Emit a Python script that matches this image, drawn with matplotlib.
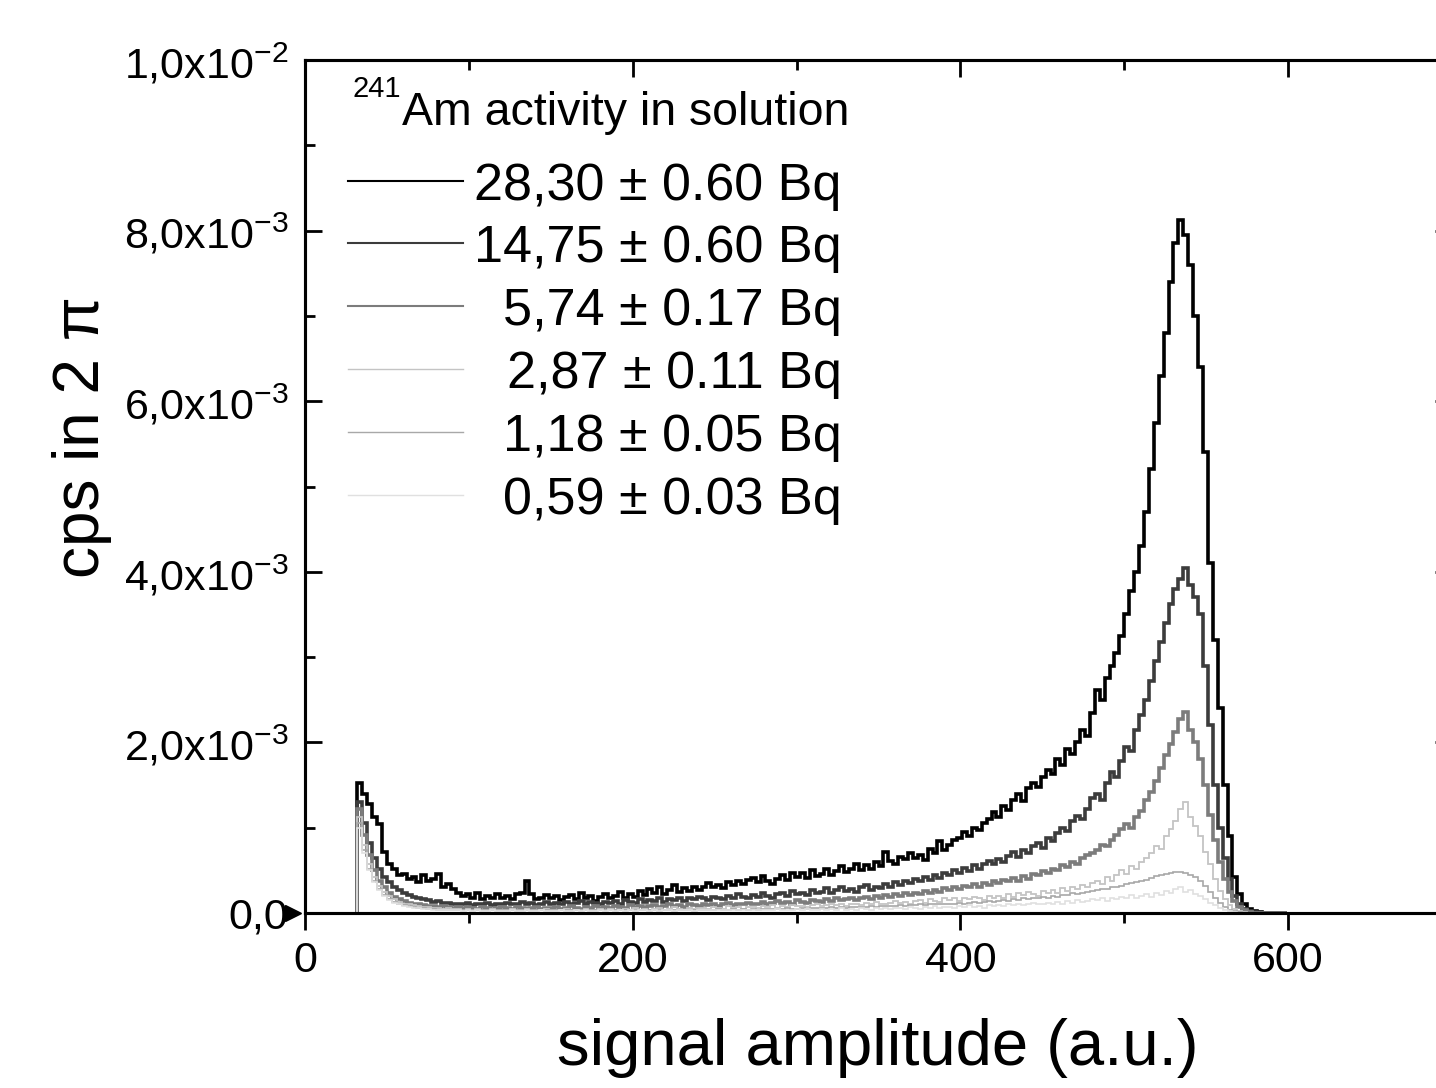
import matplotlib
matplotlib.use('Agg')
import matplotlib.pyplot as plt
import numpy as np

plt.rcParams['font.family'] = ['Liberation Sans', 'DejaVu Sans']
plt.rcParams['mathtext.fontset'] = 'custom'
plt.rcParams['mathtext.rm'] = 'Liberation Sans'
plt.rcParams['mathtext.it'] = 'Liberation Sans:italic'
plt.rcParams['mathtext.bf'] = 'Liberation Sans:bold'

# ---------------- data (counts per second, in units of 1e-5) ----------------
bin_start = 32
bin_width = 3
n_bins = 189
edges = bin_start + bin_width * np.arange(n_bins + 1)

a28_30 = [
    152, 140, 128, 112, 104, 72, 58, 52, 44, 46,
    40, 42, 36, 44, 38, 40, 46, 30, 34, 28,
    24, 20, 22, 18, 24, 16, 20, 18, 22, 17,
    20, 16, 22, 24, 38, 22, 16, 18, 21, 17,
    20, 15, 19, 21, 16, 23, 18, 20, 14, 19,
    22, 17, 20, 25, 18, 22, 19, 26, 21, 28,
    24, 30, 22, 27, 33, 25, 29, 26, 31, 27,
    30, 35, 31, 33, 29, 36, 33, 38, 34, 39,
    41, 36, 43, 38, 34, 40, 45, 39, 47, 42,
    47, 41, 50, 43, 46, 52, 45, 49, 55, 48,
    52, 58, 50, 56, 52, 60, 55, 72, 61, 58,
    66, 63, 70, 64, 68, 62, 75, 70, 84, 74,
    80, 86, 88, 95, 90, 100, 97, 106, 110, 118,
    112, 125, 121, 133, 140, 131, 146, 152, 148, 160,
    168, 163, 180, 174, 192, 186, 200, 215, 208, 235,
    262, 250, 275, 290, 305, 325, 350, 378, 400, 430,
    470, 520, 575, 630, 680, 740, 785, 812, 795, 760,
    700, 640, 540, 410, 320, 240, 150, 90, 42, 22,
    10, 5, 2, 1, 0, 0, 0, 0, 0]

a14_75 = [
    130, 105, 82, 64, 52, 42, 36, 30, 27, 24,
    21, 19, 17, 16, 15, 13, 14, 12, 12, 11,
    11, 10, 12, 9, 11, 10, 12, 9, 11, 10,
    12, 10, 11, 13, 10, 12, 9, 11, 13, 10,
    12, 11, 13, 10, 12, 14, 11, 13, 12, 10,
    13, 12, 14, 11, 15, 13, 12, 16, 13, 15,
    14, 17, 13, 16, 15, 18, 14, 17, 16, 19,
    17, 15, 19, 18, 16, 20, 18, 22, 19, 17,
    21, 19, 23, 20, 18, 22, 24, 20, 26, 22,
    24, 21, 27, 23, 25, 29, 24, 27, 31, 26,
    28, 25, 30, 33, 27, 31, 29, 34, 30, 36,
    33, 38, 35, 40, 37, 42, 39, 45, 41, 47,
    44, 50, 47, 53, 49, 56, 52, 58, 61, 57,
    63, 60, 67, 72, 66, 74, 70, 78, 82, 76,
    88, 84, 94, 100, 96, 108, 114, 110, 122, 135,
    140, 132, 152, 165, 160, 178, 195, 190, 215, 232,
    250, 272, 295, 318, 340, 362, 380, 392, 405, 385,
    370, 350, 290, 220, 150, 100, 65, 40, 20, 10,
    5, 2, 1, 0, 0, 0, 0, 0, 0]

a5_74 = [
    122, 92, 68, 50, 38, 30, 24, 19, 16, 14,
    12, 11, 10, 9, 8, 8, 7, 8, 7, 6,
    7, 6, 7, 6, 5, 7, 6, 5, 6, 7,
    6, 5, 7, 6, 5, 6, 7, 5, 6, 6,
    7, 5, 6, 8, 6, 5, 7, 6, 8, 6,
    7, 6, 8, 7, 6, 9, 7, 8, 6, 8,
    9, 7, 8, 10, 8, 9, 7, 10, 9, 8,
    10, 9, 11, 8, 10, 12, 9, 11, 10, 12,
    11, 10, 13, 11, 12, 14, 12, 13, 11, 15,
    13, 12, 15, 14, 13, 16, 14, 17, 15, 16,
    18, 15, 17, 19, 16, 20, 18, 21, 19, 22,
    20, 23, 21, 24, 22, 26, 23, 27, 25, 29,
    27, 30, 28, 32, 30, 34, 31, 35, 33, 37,
    35, 39, 37, 41, 38, 43, 40, 46, 44, 49,
    47, 52, 50, 56, 54, 60, 58, 64, 68, 70,
    74, 80, 78, 86, 92, 98, 104, 100, 112, 120,
    132, 142, 155, 170, 185, 198, 212, 228, 236, 215,
    200, 180, 150, 115, 85, 60, 40, 25, 14, 7,
    3, 1, 0, 0, 0, 0, 0, 0, 0]

a2_87 = [
    112, 80, 58, 42, 32, 25, 20, 16, 13, 11,
    10, 9, 8, 7, 7, 6, 6, 5, 6, 5,
    5, 4, 5, 4, 5, 4, 3, 5, 4, 4,
    4, 5, 3, 4, 5, 4, 3, 4, 5, 3,
    4, 3, 5, 4, 4, 3, 5, 4, 3, 5,
    4, 5, 4, 3, 5, 4, 6, 4, 5, 4,
    5, 6, 4, 5, 7, 5, 4, 6, 5, 6,
    6, 5, 7, 6, 5, 8, 6, 7, 5, 7,
    7, 6, 8, 7, 9, 6, 8, 7, 9, 8,
    8, 7, 9, 10, 8, 9, 11, 9, 10, 8,
    10, 11, 9, 12, 10, 13, 11, 10, 12, 14,
    12, 13, 11, 14, 15, 12, 16, 14, 13, 17,
    15, 17, 14, 18, 16, 19, 17, 15, 20, 18,
    20, 18, 22, 19, 23, 21, 25, 22, 20, 26,
    24, 27, 23, 29, 26, 31, 28, 33, 30, 35,
    38, 34, 42, 37, 45, 50, 46, 55, 52, 60,
    64, 70, 78, 75, 90, 98, 108, 122, 130, 112,
    102, 90, 72, 58, 40, 26, 16, 9, 5, 2,
    1, 0, 0, 0, 0, 0, 0, 0, 0]

a1_18 = [
    106, 74, 52, 38, 28, 21, 16, 13, 11, 9,
    8, 7, 6, 6, 5, 5, 4, 4, 4, 4,
    3, 3, 3, 3, 3, 3, 3, 3, 3, 3,
    3, 3, 3, 3, 3, 3, 3, 3, 3, 3,
    3, 3, 3, 3, 3, 3, 3, 3, 3, 3,
    3, 3, 3, 4, 3, 3, 4, 3, 4, 3,
    4, 3, 4, 4, 3, 4, 4, 4, 3, 4,
    4, 4, 4, 5, 4, 4, 5, 4, 5, 4,
    5, 4, 5, 5, 5, 5, 5, 6, 5, 5,
    6, 5, 6, 6, 6, 6, 7, 6, 7, 6,
    7, 7, 7, 7, 8, 7, 8, 8, 8, 8,
    9, 8, 9, 9, 10, 9, 10, 10, 11, 10,
    11, 11, 12, 11, 12, 13, 12, 13, 14, 13,
    14, 15, 14, 16, 15, 17, 16, 18, 17, 19,
    18, 20, 19, 21, 21, 23, 22, 24, 25, 26,
    27, 28, 28, 30, 31, 32, 34, 35, 36, 38,
    39, 41, 43, 44, 46, 47, 48, 48, 47, 45,
    42, 38, 32, 25, 18, 12, 7, 4, 2, 1,
    0, 0, 0, 0, 0, 0, 0, 0, 0]

a0_59 = [
    100, 70, 50, 36, 27, 20, 15, 12, 10, 8,
    7, 6, 6, 5, 5, 4, 4, 4, 3, 4,
    3, 2, 3, 2, 3, 2, 2, 3, 2, 2,
    2, 3, 2, 2, 3, 2, 2, 3, 2, 2,
    2, 3, 2, 2, 3, 2, 3, 2, 2, 3,
    2, 3, 2, 3, 2, 3, 2, 3, 3, 2,
    3, 2, 3, 3, 2, 3, 3, 4, 2, 3,
    3, 4, 3, 3, 4, 3, 4, 3, 4, 3,
    4, 3, 4, 4, 3, 5, 4, 3, 4, 5,
    4, 5, 4, 3, 5, 4, 5, 4, 6, 4,
    5, 4, 6, 5, 4, 6, 5, 6, 5, 6,
    6, 5, 7, 6, 5, 7, 6, 8, 6, 7,
    7, 6, 8, 7, 9, 7, 8, 6, 9, 8,
    9, 8, 10, 9, 11, 9, 10, 12, 10, 11,
    12, 10, 13, 11, 14, 12, 15, 13, 14, 16,
    15, 17, 14, 18, 16, 19, 17, 21, 18, 20,
    22, 19, 24, 21, 26, 23, 28, 30, 25, 27,
    22, 20, 16, 12, 9, 6, 4, 2, 1, 0,
    0, 0, 0, 0, 0, 0, 0, 0, 0]

series = [a28_30, a14_75, a5_74, a2_87, a1_18, a0_59]
labels = ["28,30 \u00b1 0.60 Bq", "14,75 \u00b1 0.60 Bq", "5,74 \u00b1 0.17 Bq",
          "2,87 \u00b1 0.11 Bq", "1,18 \u00b1 0.05 Bq", "0,59 \u00b1 0.03 Bq"]
colors = ['#000000', '#3c3c3c', '#7c7c7c', '#c4c4c4', '#a8a8a8', '#e0e0e0']
widths = [2.6, 2.6, 2.6, 1.3, 1.2, 1.2]
legend_widths = [1.5, 1.5, 1.5, 1.0, 1.0, 1.0]

x_major = [0, 200, 400, 600]
x_minor = [100, 300, 500, 700]
y_major = [0.0, 0.002, 0.004, 0.006, 0.008, 0.010]
y_minor = [0.001, 0.003, 0.005, 0.007, 0.009]
y_labels = ['0,0', '2,0x10$^{-3}$', '4,0x10$^{-3}$', '6,0x10$^{-3}$',
            '8,0x10$^{-3}$', '1,0x10$^{-2}$']
scale = 1e-5

# ---------------- figure ----------------
fig = plt.figure(figsize=(14.36, 10.88), dpi=100)
ax = fig.add_axes([305 / 1436, 175 / 1088, 1147 / 1436, 853 / 1088])

for vals, c, lw in zip(series, colors, widths):
    ax.stairs(np.array(vals) * scale, edges, color=c, lw=lw, baseline=0)

ax.set_xlim(0, 700)
ax.set_ylim(0, 0.01)
ax.set_xticks(x_major)
ax.set_xticks(x_minor, minor=True)
ax.set_yticks(y_major)
ax.set_yticks(y_minor, minor=True)
ax.set_yticklabels(y_labels)
ax.set_xticklabels([str(v) for v in x_major])

for sp in ax.spines.values():
    sp.set_linewidth(2.2)

ax.tick_params(axis='x', which='both', direction='out', top=False,
               labelsize=31, pad=8, width=2, colors='black')
ax.tick_params(axis='x', which='major', length=12)
ax.tick_params(axis='x', which='minor', length=7)
ax.tick_params(axis='y', which='both', direction='in', left=True, right=True,
               labelsize=31, pad=12, width=2)
ax.tick_params(axis='y', which='major', length=12)
ax.tick_params(axis='y', which='minor', length=7)

# top axis ticks pointing inward
ax2 = ax.twiny()
ax2.set_xlim(ax.get_xlim())
ax2.set_xticks(x_major)
ax2.set_xticks(x_minor, minor=True)
ax2.tick_params(axis='x', which='both', direction='in', labeltop=False, width=2)
ax2.tick_params(axis='x', which='major', length=12)
ax2.tick_params(axis='x', which='minor', length=7)
for sp in ax2.spines.values():
    sp.set_linewidth(2.2)

# small arrow at the origin
ax.plot([-0.0105], [0], marker='>', ms=11, color='black',
        transform=ax.transAxes, clip_on=False)

# manual legend
ax.text(0.041, 0.9566, '241', transform=ax.transAxes,
        ha='left', va='baseline', fontsize=21)
ax.text(0.0846, 0.9238, 'Am activity in solution', transform=ax.transAxes,
        ha='left', va='baseline', fontsize=33.5)
row_y = [0.858, 0.7855, 0.7116, 0.6377, 0.5639, 0.490]
for yy, lab, c, lw in zip(row_y, labels, colors, legend_widths):
    ax.plot([0.0375, 0.1378], [yy, yy], transform=ax.transAxes, color=c, lw=lw)
    ax.text(0.468, yy, lab, transform=ax.transAxes, ha='right',
            va='center_baseline', fontsize=37.5)

fig.text(878 / 1436, 1 - 1048 / 1088, 'signal amplitude (a.u.)', ha='center',
         va='center', fontsize=47)
fig.text(82 / 1436, 1 - 437 / 1088, 'cps in 2 \u03c0', ha='center', va='center',
         rotation=90, fontsize=46)

fig.savefig('out.png', dpi=100)
